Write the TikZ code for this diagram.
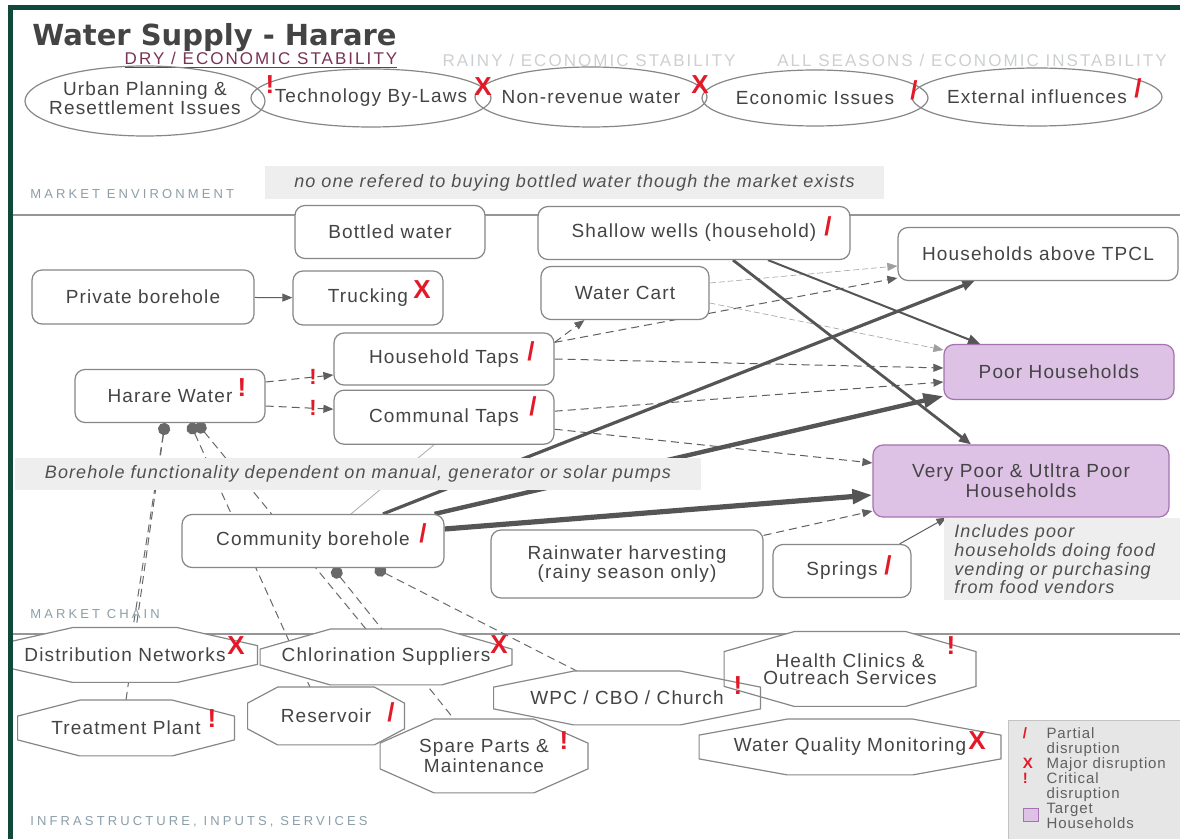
\documentclass[tikz,border=0pt]{standalone}
\usepackage{fontspec}
\setmainfont[LetterSpace=6]{Liberation Sans}
\newfontfamily\titlefont{DejaVu Sans}
\newfontfamily\capsfont[LetterSpace=24]{Liberation Sans}
\newfontfamily\seasonfont[LetterSpace=12]{Liberation Sans}
\usepackage{xcolor}
\usetikzlibrary{shapes,arrows.meta,positioning,calc}
\definecolor{framegreen}{RGB}{16,72,58}
\definecolor{boxgray}{RGB}{135,135,135}
\definecolor{textgray}{RGB}{68,68,68}
\definecolor{arrowgray}{RGB}{95,95,95}
\definecolor{heavygray}{RGB}{85,85,85}
\definecolor{linkgray}{RGB}{105,105,105}
\definecolor{notegray}{RGB}{238,238,238}
\definecolor{notetext}{RGB}{80,80,80}
\definecolor{labelblue}{RGB}{140,158,168}
\definecolor{seasonpink}{RGB}{122,50,85}
\definecolor{seasonlight}{RGB}{205,208,210}
\definecolor{markred}{RGB}{227,25,40}
\definecolor{targetfill}{RGB}{221,194,230}
\definecolor{targetline}{RGB}{165,115,175}
\definecolor{sepgray}{RGB}{150,150,150}
\definecolor{legendfill}{RGB}{230,230,230}
\definecolor{legendline}{RGB}{195,195,195}

\pgfdeclarelayer{bg}
\pgfdeclarelayer{mid}
\pgfsetlayers{bg,mid,main}

% disruption markers
\newcommand{\mkpart}{\textcolor{markred}{\bfseries /}}
\newcommand{\mkmajor}{\textcolor{markred}{\bfseries X}}
\newcommand{\mkcrit}{\textcolor{markred}{\bfseries !}}
\newcommand{\swatch}{{\setlength{\fboxsep}{0pt}\fcolorbox{targetline}{targetfill}{\rule{0pt}{6pt}\hspace{7pt}}}}
\newcommand{\nowide}[1]{\makebox[0pt]{#1}}

\begin{document}
\begin{tikzpicture}[x=0.5pt, y=-0.5pt, >={Triangle[length=5pt,width=4pt]},
    chainbox/.style={rectangle, rounded corners=5pt, draw=boxgray, line width=0.6pt, fill=white, text=textgray, inner sep=0pt, minimum height=26.5pt, align=center, font=\fontsize{9.5}{8.5}\selectfont},
    target/.style={chainbox, fill=targetfill, draw=targetline},
    bubble/.style={ellipse, draw=boxgray, line width=0.6pt, inner sep=0pt, text=textgray, font=\fontsize{9.5}{8.5}\selectfont},
    infra/.style={rectangle, inner sep=0pt, text=textgray, align=center, font=\fontsize{9.5}{8.5}\selectfont},
    octline/.style={draw=boxgray, line width=0.6pt},
    note/.style={rectangle, fill=notegray, inner sep=0pt, text=notetext, font=\fontsize{9}{7.8}\selectfont\itshape},
    section/.style={anchor=west, inner sep=0pt, text=labelblue, font=\capsfont\fontsize{6.5}{7}\selectfont},
    season/.style={inner sep=0pt, font=\seasonfont\fontsize{8.5}{9}\selectfont},
    legend/.style={rectangle, fill=legendfill, draw=legendline, line width=0.4pt, inner sep=0pt, text=textgray!85, font=\fontsize{7.5}{6.9}\selectfont},
    mk/.style={inner sep=0pt, font=\fontsize{13}{13}\selectfont},
    flow/.style={->, arrowgray, line width=0.5pt},
    dflow/.style={flow, dash pattern=on 4pt off 2.5pt},
    faint/.style={flow, line width=0.3pt, arrowgray!60, dash pattern=on 3pt off 1.5pt},
    strong/.style={->, >={Triangle[length=6pt,width=5pt]}, heavygray, line width=#1},
    strong/.default=1pt,
    heavy/.style={->, >={Triangle[length=10pt,width=7pt]}, heavygray, line width=#1},
    heavy/.default=2.2pt,
    link/.style={arrows={{Circle[length=6pt]}-}, linkgray, line width=0.5pt, dash pattern=on 4pt off 2.5pt}]

    \useasboundingbox (0,0) rectangle (1180,839);
    \begin{pgfonlayer}{bg}
        \fill[white] (0,0) rectangle (1180,839);
        \draw[sepgray, line width=1pt] (12,215) -- (1180,215);
        \draw[sepgray, line width=1pt] (12,634) -- (1180,634);
    \end{pgfonlayer}

    % header
    \node[anchor=west, inner sep=0pt, text=textgray, font=\titlefont\bfseries\fontsize{14.5}{16}\selectfont] (title) at (32,38) {Water Supply - Harare};
    \node[season, text=seasonpink] (dry) at (261,60) {\underline{DRY / ECONOMIC STABILITY}};
    \node[season, text=seasonlight] (rainy) at (589,60) {RAINY / ECONOMIC STABILITY};
    \node[season, text=seasonlight] (allseas) at (972,60) {ALL SEASONS / ECONOMIC INSTABILITY};

    \node[section] (envlabel) at (30,194) {MARKET ENVIRONMENT};
    \node[section] (chainlabel) at (30,614) {MARKET CHAIN};
    \node[section] (infralabel) at (30,822) {INFRASTRUCTURE, INPUTS, SERVICES};

    % market environment
    \node[bubble, minimum width=120pt, minimum height=35pt] (urban) at (145,101) {\nowide{\begin{tabular}{@{}c@{}}Urban Planning \&\\Resettlement Issues\end{tabular}}};
    \node[bubble, minimum width=120pt, minimum height=29pt] (bylaws) at (371,98) {\nowide{Technology By-Laws}};
    \node[bubble, minimum width=116pt, minimum height=30pt] (nrw) at (591,97) {\nowide{Non-revenue water}};
    \node[bubble, minimum width=113pt, minimum height=28pt] (econ) at (815,98) {\nowide{Economic Issues}};
    \node[bubble, minimum width=125pt, minimum height=29pt] (extern) at (1037,97) {\nowide{External influences}};
    \node[note, minimum width=309.5pt, minimum height=16.5pt] (envnote) at (574.5,183) {no one refered to buying bottled water though the market exists};

    % market chain
    \node[chainbox, minimum width=95pt] (bottled) at (390,232) {Bottled water};
    \node[chainbox, minimum width=156pt] (shallow) at (694,233) {Shallow wells (household)};
    \node[chainbox, minimum width=140pt] (tpcl) at (1038,254) {Households above TPCL};
    \node[chainbox, minimum width=111pt, minimum height=27pt] (private) at (143,297) {Private borehole};
    \node[chainbox, minimum width=75pt, minimum height=27pt] (trucking) at (368,298) {Trucking};
    \node[chainbox, minimum width=84pt] (cart) at (625,293) {Water Cart};
    \node[chainbox, minimum width=110pt, minimum height=26pt] (htaps) at (444,359) {Household Taps};
    \node[chainbox, minimum width=110pt, minimum height=27pt, below=2pt of htaps] (ctaps) {Communal Taps};
    \node[chainbox, minimum width=95pt] (harare) at (170,396) {Harare Water};
    \node[target, minimum width=115pt, minimum height=27.5pt] (poor) at (1059,372) {Poor Households};
    \node[target, minimum width=148pt, minimum height=36pt] (vpoor) at (1021,481) {Very Poor \& Utltra Poor\\Households};
    \node[chainbox, minimum width=131pt] (cbore) at (313,541) {Community borehole};
    \node[chainbox, minimum width=136pt, minimum height=34pt] (rain) at (627,564) {Rainwater harvesting\\(rainy season only)};
    \node[chainbox, minimum width=69pt] (springs) at (842,571) {Springs};
    \node[note, minimum width=343pt, minimum height=16pt] (pumpnote) at (358,474) {Borehole functionality dependent on manual, generator or solar pumps};
    \node[note, anchor=north west, minimum height=41pt, text width=108pt, inner xsep=5pt, align=left] (vendnote) at (944,518) {Includes poor\\households doing food\\vending or purchasing\\from food vendors};

    % infrastructure, inputs, services
    \node[infra, minimum width=132pt, minimum height=27pt] (distnet) at (125,655) {Distribution Networks};
    \node[infra, minimum width=125.5pt, minimum height=27.5pt] (chlor) at (386,657) {Chlorination Suppliers};
    \node[infra, minimum width=108pt, minimum height=27.5pt] (treat) at (126,728) {Treatment Plant};
    \node[infra, minimum width=78pt, minimum height=28.5pt] (reserv) at (326,716) {Reservoir};
    \node[infra, minimum width=103.5pt, minimum height=36.5pt] (spare) at (484,756) {Spare Parts \&\\Maintenance};
    \node[infra, minimum width=133pt, minimum height=26.5pt] (wpc) at (627,698) {WPC / CBO / Church};
    \node[infra, minimum width=125.5pt, minimum height=37pt] (health) at (850,669) {Health Clinics \&\\Outreach Services};
    \node[infra, minimum width=150.5pt, minimum height=27.5pt] (wqm) at (850,747) {Water Quality Monitoring};

    \begin{pgfonlayer}{mid}
    \begin{scope}
        \clip (12,0) rectangle (1180,839);
        \foreach \oct/\cx/\cy in {distnet/40pt/9pt, chlor/35pt/10pt, treat/31pt/8pt, reserv/15pt/8pt, spare/27pt/12pt, wpc/40pt/8pt, health/35pt/10pt, wqm/44pt/8pt}
            \fill[white] ($(\oct.north west)+(\cx,0)$) -- ($(\oct.north east)+(-\cx,0)$) -- ($(\oct.north east)+(0,-\cy)$) -- ($(\oct.south east)+(0,\cy)$) -- ($(\oct.south east)+(-\cx,0)$) -- ($(\oct.south west)+(\cx,0)$) -- ($(\oct.south west)+(0,\cy)$) -- ($(\oct.north west)+(0,-\cy)$) -- cycle;
        \foreach \oct/\cx/\cy in {distnet/40pt/9pt, chlor/35pt/10pt, treat/31pt/8pt, reserv/15pt/8pt, spare/27pt/12pt, wpc/40pt/8pt, health/35pt/10pt, wqm/44pt/8pt}
            \draw[octline] ($(\oct.north west)+(\cx,0)$) -- ($(\oct.north east)+(-\cx,0)$) -- ($(\oct.north east)+(0,-\cy)$) -- ($(\oct.south east)+(0,\cy)$) -- ($(\oct.south east)+(-\cx,0)$) -- ($(\oct.south west)+(\cx,0)$) -- ($(\oct.south west)+(0,\cy)$) -- ($(\oct.north west)+(0,-\cy)$) -- cycle;
    \end{scope}
    \end{pgfonlayer}

    % connectors
    \begin{pgfonlayer}{bg}
        \draw[flow] (private) -- (trucking);
        \draw[dflow] ([yshift=7pt]harare.east) -- ([yshift=-8pt]htaps.west) node[mk, pos=0.7, font=\fontsize{11}{11}\selectfont] (hwhtmk) {\mkcrit};
        \draw[dflow] ([yshift=-5pt]harare.east) -- ([yshift=4pt]ctaps.west) node[mk, pos=0.7, font=\fontsize{11}{11}\selectfont] (hwctmk) {\mkcrit};
        \draw[dflow] ([yshift=-5pt]htaps.north east) -- ([xshift=22pt]cart.south west);
        \draw[dflow] ([yshift=-5pt]htaps.north east) -- ([yshift=-12pt]tpcl.west);
        \draw[faint] ([yshift=5pt]cart.east) -- ([yshift=-6pt]tpcl.west);
        \draw[faint] ([yshift=-5pt]cart.east) -- ([yshift=11pt]poor.west);
        \draw[dflow] (htaps.east) -- ([yshift=2pt]poor.west);
        \draw[dflow] ([yshift=3pt]ctaps.east) -- ([yshift=-5pt]poor.west);
        \draw[dflow] ([yshift=-6pt]ctaps.east) -- ([yshift=9pt]vpoor.west);
        \draw[strong=1.4pt] ([xshift=19.5pt]shallow.south) -- ([xshift=-25pt]vpoor.north);
        \draw[strong] ([xshift=37pt]shallow.south) -- ([xshift=-39.5pt]poor.north);
        \draw[strong=1.6pt] ([xshift=35pt]cbore.north) -- ([xshift=38.5pt]tpcl.south west);
        \draw[heavy] ([xshift=-5pt]cbore.north east) -- ([yshift=2pt]poor.south west);
        \draw[heavy=2.6pt] ([yshift=6pt]cbore.east) -- ([yshift=-7pt]vpoor.west);
        \draw[dflow] ([yshift=-3pt]rain.north east) -- ([yshift=-15pt]vpoor.west);
        \draw[flow] ([xshift=-6pt]springs.north east) -- ([xshift=37pt]vpoor.south west);
        \draw[boxgray!70, line width=0.4pt] ([xshift=-5pt]ctaps.south) -- ([xshift=19pt]cbore.north);
        % links down to the services
        \draw[link] ([xshift=-2.5pt]harare.south) -- ([xshift=4pt]distnet.north);
        \draw[link] ([xshift=-2.5pt]harare.south) -- (treat.north);
        \draw[link] ([xshift=10pt]harare.south) -- ([xshift=-8pt]reserv.north);
        \draw[link] ([xshift=13.5pt]harare.south) -- ([xshift=-10pt]chlor.north);
        \draw[link] ([xshift=10pt]cbore.south) -- ([xshift=-15pt]spare.north);
        \draw[link] ([xshift=31pt]cbore.south) -- ([xshift=-25pt]wpc.north);
    \end{pgfonlayer}

    % disruption markers
    \node[mk] (urbanmk) at (270,85) {\mkcrit};
    \node[mk] (bylawsmk) at (483,87) {\mkmajor};
    \node[mk] (nrwmk) at (700,85) {\mkmajor};
    \node[mk] (econmk) at (914,90) {\mkpart};
    \node[mk] (externmk) at (1138,88) {\mkpart};
    \node[mk] (shallowmk) at (828,226) {\mkpart};
    \node[mk] (truckingmk) at (422,290) {\mkmajor};
    \node[mk] (htapsmk) at (531,351) {\mkpart};
    \node[mk] (ctapsmk) at (533,406) {\mkpart};
    \node[mk] (hararemk) at (242,388) {\mkcrit};
    \node[mk] (cboremk) at (423,533) {\mkpart};
    \node[mk] (springsmk) at (888,565) {\mkpart};
    \node[mk] (distnetmk) at (236,646) {\mkmajor};
    \node[mk] (chlormk) at (499,645) {\mkmajor};
    \node[mk] (treatmk) at (212,719) {\mkcrit};
    \node[mk] (reservmk) at (391,712) {\mkpart};
    \node[mk] (sparemk) at (564,741) {\mkcrit};
    \node[mk] (wpcmk) at (738,686) {\mkcrit};
    \node[mk] (healthmk) at (951,646) {\mkcrit};
    \node[mk] (wqmmk) at (977,741) {\mkmajor};

    \node[legend, anchor=north west, minimum width=86pt, minimum height=59.5pt] (legend) at (1008,720) {\begin{tabular}{@{}l@{\hspace{4pt}}l@{}}\mkpart & Partial\\ & disruption\\ \mkmajor & Major disruption\\ \mkcrit & Critical\\ & disruption\\ \smash{\raisebox{-4pt}{\swatch}} & Target\\ & Households\end{tabular}};

    \draw[framegreen, line width=2.5pt] (10,839) -- (10,8) -- (1180,8);
\end{tikzpicture}
\end{document}
